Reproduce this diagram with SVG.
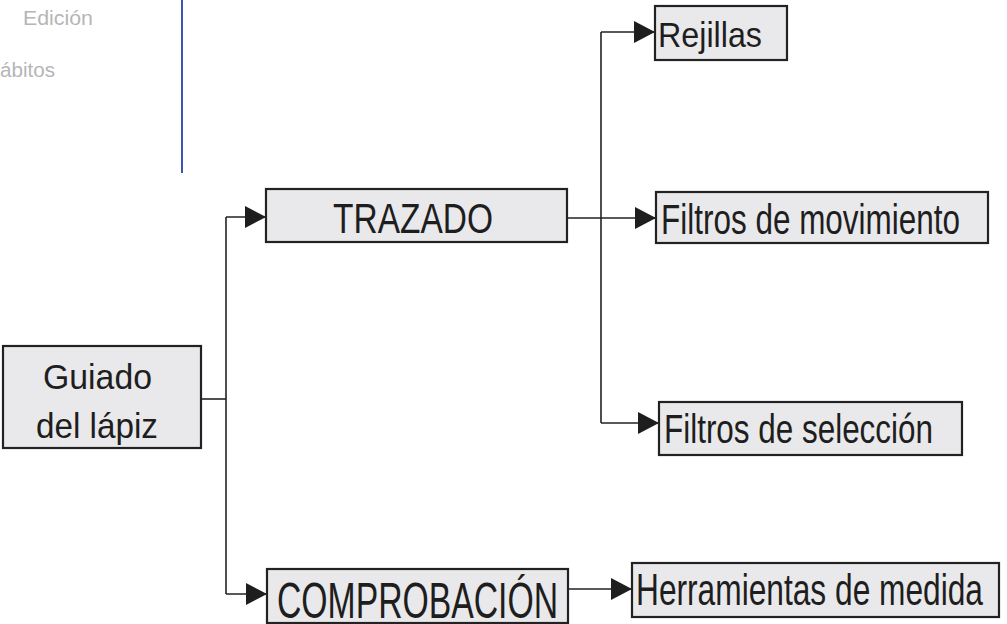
<svg xmlns="http://www.w3.org/2000/svg" width="1007" height="624" viewBox="0 0 1007 624">
<defs>
<style>
.box{fill:#e9e9eb;stroke:#222;stroke-width:2.2}
.t{font-family:"Liberation Sans",Arial,sans-serif;fill:#1e1e1e}
.c{fill:none;stroke:#222;stroke-width:1.6}
.g{font-family:"Liberation Sans",Arial,sans-serif;fill:#b5b5b8;font-size:20px}
</style>
<marker id="ah" markerUnits="userSpaceOnUse" markerWidth="22" markerHeight="22" refX="21" refY="11" orient="auto" viewBox="0 0 22 22">
<path d="M0,0 L21,11 L0,22 Z" fill="#1e1e1e"/>
</marker>
</defs>
<rect width="1007" height="624" fill="#ffffff"/>
<g id="sidebar">
<text class="g" x="23" y="25" textLength="70" lengthAdjust="spacingAndGlyphs">Edición</text>
<text class="g" x="0" y="77" textLength="55" lengthAdjust="spacingAndGlyphs">ábitos</text>
<line x1="182" y1="0" x2="182" y2="173" stroke="#3c55b5" stroke-width="2"/>
</g>
<g id="connectors">
<path class="c" d="M201,399 H226"/>
<path class="c" d="M226,217 V594"/>
<path class="c" d="M226,217 H266" marker-end="url(#ah)"/>
<path class="c" d="M226,594 H267" marker-end="url(#ah)"/>
<path class="c" d="M567,218 H656" marker-end="url(#ah)"/>
<path class="c" d="M601,32 V423"/>
<path class="c" d="M601,32 H655" marker-end="url(#ah)"/>
<path class="c" d="M601,423 H659" marker-end="url(#ah)"/>
<path class="c" d="M568,589 H632" marker-end="url(#ah)"/>
</g>
<g id="guiado">
<rect class="box" x="3" y="346" width="198" height="102"/>
<text class="t" x="43" y="389" font-size="35" textLength="109" lengthAdjust="spacingAndGlyphs">Guiado</text>
<text class="t" x="36" y="438" font-size="35" textLength="122" lengthAdjust="spacingAndGlyphs">del lápiz</text>
</g>
<g id="trazado">
<rect class="box" x="266" y="189" width="301" height="53"/>
<text class="t" x="333" y="233" font-size="42" textLength="160" lengthAdjust="spacingAndGlyphs">TRAZADO</text>
</g>
<g id="comprobacion">
<rect class="box" x="267" y="569" width="301" height="54"/>
<text class="t" x="277" y="618" font-size="50" textLength="281" lengthAdjust="spacingAndGlyphs">COMPROBACIÓN</text>
</g>
<g id="rejillas">
<rect class="box" x="655" y="6" width="132" height="54"/>
<text class="t" x="658" y="47" font-size="35" textLength="104" lengthAdjust="spacingAndGlyphs">Rejillas</text>
</g>
<g id="filtros-movimiento">
<rect class="box" x="656" y="192" width="332" height="51"/>
<text class="t" x="661" y="234" font-size="43" textLength="299" lengthAdjust="spacingAndGlyphs">Filtros de movimiento</text>
</g>
<g id="filtros-seleccion">
<rect class="box" x="659" y="402" width="303" height="53"/>
<text class="t" x="664" y="443" font-size="40" textLength="269" lengthAdjust="spacingAndGlyphs">Filtros de selección</text>
</g>
<g id="herramientas">
<rect class="box" x="632" y="563" width="367" height="54"/>
<text class="t" x="636" y="605" font-size="45" textLength="347" lengthAdjust="spacingAndGlyphs">Herramientas de medida</text>
</g>
</svg>
